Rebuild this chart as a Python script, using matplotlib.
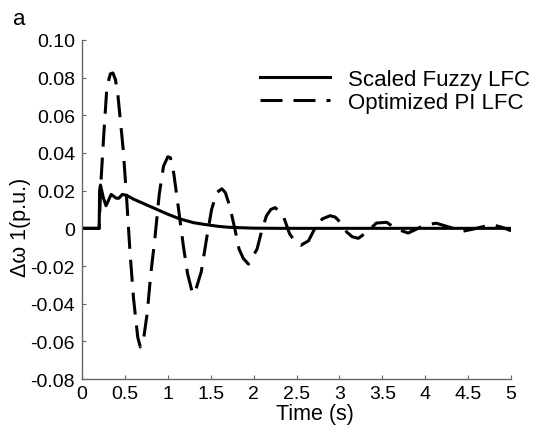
import matplotlib
matplotlib.use("Agg")
import matplotlib.pyplot as plt

plt.rcParams['font.family'] = ['Liberation Sans', 'DejaVu Sans']

# Scaled fuzzy LFC response
fuzzy_t = [0, 0.20, 0.205, 0.215, 0.25, 0.28, 0.31, 0.34, 0.37, 0.40, 0.43, 0.47,
           0.52, 0.60, 0.70, 0.80, 0.90, 1.00, 1.14, 1.30, 1.41, 1.50, 1.60,
           1.70, 1.80, 2.00, 2.30, 5.00]
fuzzy_v = [0, 0, 0.020, 0.023, 0.016, 0.012, 0.015, 0.018, 0.017, 0.016, 0.016, 0.018,
           0.0175, 0.0155, 0.0135, 0.0115, 0.0095, 0.0075, 0.005, 0.003, 0.0022,
           0.0016, 0.0010, 0.0006, 0.0004, 0.0001, 0.0, 0.0]

# Optimized PI LFC response
pi_t = [0, 0.20, 0.22, 0.25, 0.29, 0.33, 0.36, 0.39, 0.42, 0.48, 0.52, 0.56, 0.60,
        0.65, 0.68, 0.72, 0.76, 0.80, 0.85, 0.90, 0.95, 1.00, 1.03, 1.07, 1.12,
        1.18, 1.23, 1.29, 1.33, 1.39, 1.45, 1.51, 1.57, 1.63, 1.67, 1.72, 1.78,
        1.83, 1.88, 1.94, 1.99, 2.04, 2.09, 2.15, 2.20, 2.25, 2.30, 2.35, 2.42,
        2.50, 2.55, 2.64, 2.72, 2.80, 2.89, 2.95, 3.01, 3.085, 3.15, 3.22, 3.32,
        3.43, 3.55, 3.67, 3.80, 3.94, 4.05, 4.13, 4.29, 4.43, 4.56, 4.70, 4.79,
        4.90, 5.00]
pi_v = [0, 0, 0.024, 0.047, 0.075, 0.082, 0.0825, 0.079, 0.070, 0.042, 0.016, -0.013,
        -0.037, -0.058, -0.063, -0.058, -0.045, -0.025, -0.005, 0.018, 0.033, 0.038,
        0.0375, 0.029, 0.012, -0.009, -0.024, -0.035, -0.032, -0.023, -0.006, 0.010,
        0.019, 0.021, 0.019, 0.012, 0.0, -0.011, -0.016, -0.019, -0.015, -0.011,
        -0.002, 0.0067, 0.010, 0.011, 0.009, 0.006, -0.003, -0.008, -0.009, -0.0066,
        0.0005, 0.005, 0.0067, 0.006, 0.0032, -0.002, -0.0045, -0.0053, -0.002,
        0.0028, 0.0032, -0.0004, -0.0025, 0.0005, 0.0022, 0.0027, 0.0005, -0.0016,
        -0.0004, 0.0012, 0.0018, 0.0005, -0.0013]

x_ticks = [0, 0.5, 1, 1.5, 2, 2.5, 3, 3.5, 4, 4.5, 5]
x_labels = ['0', '0.5', '1', '1.5', '2', '2.5', '3', '3.5', '4', '4.5', '5']
y_ticks = [-0.08, -0.06, -0.04, -0.02, 0, 0.02, 0.04, 0.06, 0.08, 0.10]
y_labels = ['-0.08', '-0.06', '-0.04', '-0.02', '0', '0.02', '0.04', '0.06', '0.08', '0.10']

fig = plt.figure(figsize=(5.37, 4.31), dpi=100)
ax = fig.add_axes([0.1527, 0.1183, 0.799, 0.7866])

ax.plot(fuzzy_t, fuzzy_v, color='black', lw=2.2, label='Scaled Fuzzy LFC')
ax.plot(pi_t, pi_v, color='black', lw=2.2, dashes=(7.2, 3.6), label='Optimized PI LFC')

ax.set_xlim(0, 5)
ax.set_ylim(-0.08, 0.10)
ax.set_xticks(x_ticks)
ax.set_xticklabels(x_labels)
ax.set_yticks(y_ticks)
ax.set_yticklabels(y_labels)

for side in ['top', 'right']:
    ax.spines[side].set_visible(False)
for side in ['left', 'bottom']:
    ax.spines[side].set_color('#666666')
    ax.spines[side].set_linewidth(1.0)
ax.tick_params(direction='in', length=3, width=0.8, color='#666666',
               labelsize=14, pad=5, labelcolor='black')
ax.tick_params(axis='x', pad=4)

ax.set_xlabel('Time (s)', fontsize=15.5)
ax.xaxis.set_label_coords(0.543, -0.072)
ax.set_ylabel('Δω 1(p.u.)', fontsize=15.5)
ax.yaxis.set_label_coords(-0.12, 0.45)

ax.legend(loc='upper left', bbox_to_anchor=(0.415, 0.915), frameon=False,
          fontsize=16, handlelength=3.15, handletextpad=0.8, labelspacing=0.1,
          borderpad=0, borderaxespad=0)

fig.text(0.024, 0.954, 'a', fontsize=16, va='center', ha='left')

fig.savefig('out.png', dpi=100)
